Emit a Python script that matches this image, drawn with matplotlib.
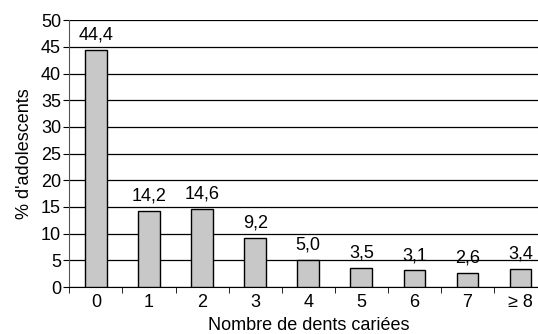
import numpy as np
import matplotlib
matplotlib.use("Agg")
import matplotlib.pyplot as plt

# données
categories = ["0", "1", "2", "3", "4", "5", "6", "7", "\u2265 8"]
valeurs = [44.4, 14.2, 14.6, 9.2, 5.0, 3.5, 3.1, 2.6, 3.4]
y_ticks = [0, 5, 10, 15, 20, 25, 30, 35, 40, 45, 50]

plt.rcParams['font.family'] = ['Liberation Sans', 'DejaVu Sans']
fs = 13

fig = plt.figure(figsize=(5.38, 3.34), dpi=100)
# l'axe dépasse à droite : la dernière colonne est coupée par le bord
ax = fig.add_axes([0.129, 0.1407, 0.888, 0.799])

x = np.arange(len(categories))
ax.set_axisbelow(True)
ax.yaxis.grid(True, color='black', linewidth=0.9)
ax.bar(x, valeurs, width=0.41, color='#c8c8c8', edgecolor='black', linewidth=1.0, zorder=3)

for xi, v in zip(x, valeurs):
    ax.text(xi, v + 1.2, f"{v:.1f}".replace('.', ','), ha='center', va='bottom', fontsize=fs)

ax.set_xlim(-0.5, len(categories) - 0.5)
ax.set_ylim(0, 50)
ax.set_yticks(y_ticks)
ax.set_xticks(x)
ax.set_xticklabels(categories)
ax.set_xticks(np.arange(-0.5, len(categories)), minor=True)
ax.tick_params(axis='x', which='major', length=0, labelsize=fs, pad=5)
ax.tick_params(axis='x', which='minor', length=4, direction='out')
ax.tick_params(axis='y', length=4, labelsize=fs, pad=2)

for s in ['top', 'right']:
    ax.spines[s].set_visible(False)
ax.spines['left'].set_color('#555555')
ax.spines['bottom'].set_color('black')

ax.set_xlabel("Nombre de dents cariées", fontsize=fs, labelpad=4)
ax.set_ylabel("% d'adolescents", fontsize=fs, labelpad=6)

fig.savefig("out.png", dpi=100)
